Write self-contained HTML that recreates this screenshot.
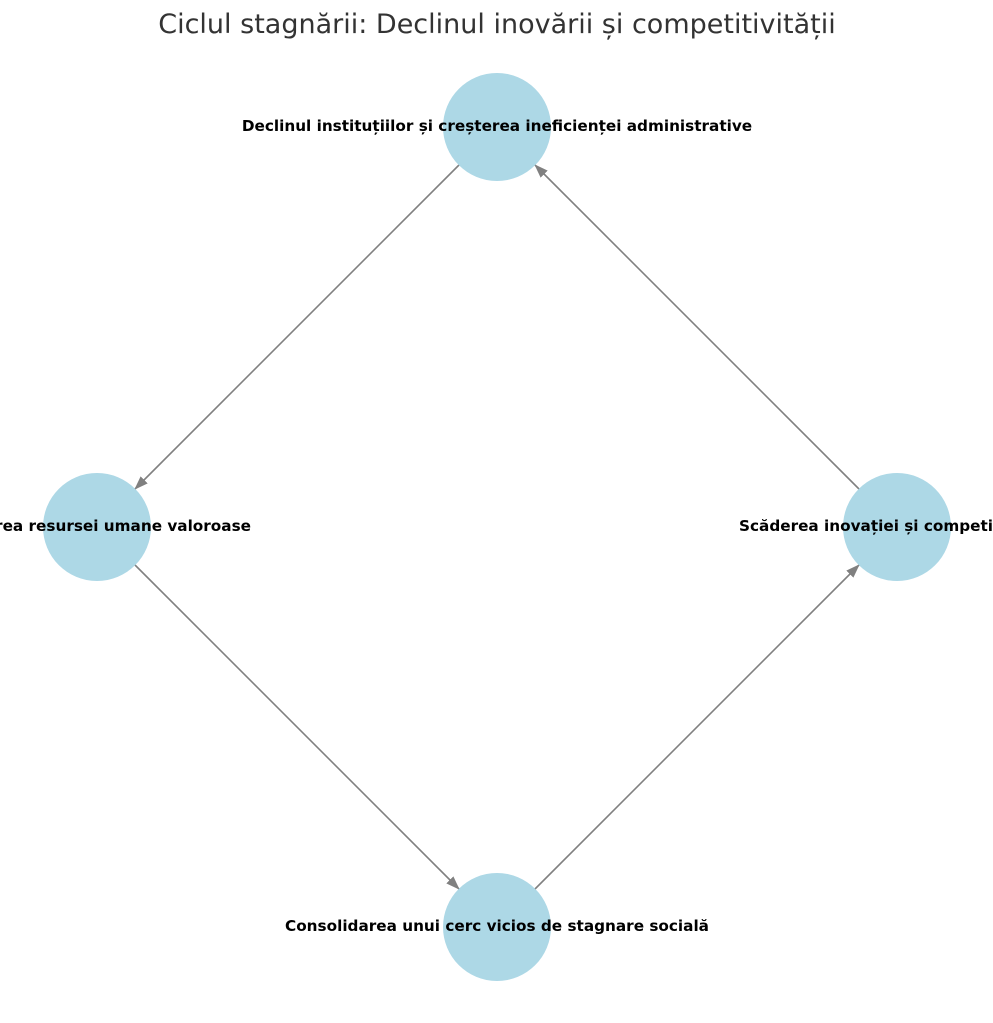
<!DOCTYPE html>
<html><head><meta charset="utf-8"><style>
html,body{margin:0;padding:0;background:#fff;}
svg{display:block;}
</style></head><body>
<svg width="993" height="1023" viewBox="0 0 993 1023" xmlns="http://www.w3.org/2000/svg">
<defs>
<marker id="a" markerWidth="14" markerHeight="10" refX="13" refY="5" orient="auto" markerUnits="userSpaceOnUse">
<path d="M0,0 L14,5 L0,10 Z" fill="#808080"/>
</marker>
</defs>
<text x="497" y="33" text-anchor="middle" font-family="DejaVu Sans, Liberation Sans, sans-serif" font-size="27" fill="#333">Ciclul stagnării: Declinul inovării și competitivității</text>
<g stroke="#808080" stroke-width="1.6" marker-end="url(#a)">
<line x1="459" y1="165" x2="135" y2="489"/>
<line x1="135" y1="565" x2="459" y2="889"/>
<line x1="535" y1="889" x2="859" y2="565"/>
<line x1="859" y1="489" x2="535" y2="165"/>
</g>
<g fill="#ADD8E6">
<circle cx="497" cy="127" r="54"/>
<circle cx="97" cy="527" r="54"/>
<circle cx="897" cy="527" r="54"/>
<circle cx="497" cy="927" r="54"/>
</g>
<g font-family="DejaVu Sans, Liberation Sans, sans-serif" font-size="15.25" font-weight="bold" fill="#000">
<text x="497" y="131" text-anchor="middle">Declinul instituțiilor și creșterea ineficienței administrative</text>
<text x="251" y="531" text-anchor="end">Pierderea resursei umane valoroase</text>
<text x="739" y="531" text-anchor="start">Scăderea inovației și competitivității</text>
<text x="497" y="931" text-anchor="middle">Consolidarea unui cerc vicios de stagnare socială</text>
</g>
</svg>
</body></html>
